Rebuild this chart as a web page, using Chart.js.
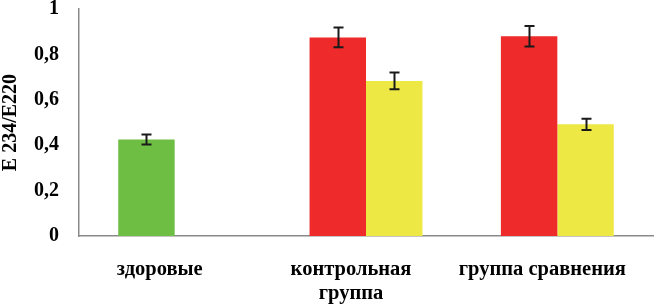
<!DOCTYPE html>
<html>
<head>
<meta charset="utf-8">
<script src="https://cdn.jsdelivr.net/npm/chart.js@4/dist/chart.umd.min.js"></script>
<style>
html,body{margin:0;padding:0;background:#fff;}
#wrap{width:655px;height:306px;position:relative;}
</style>
</head>
<body>
<div id="wrap"><canvas id="c"></canvas></div>
<script>
// ---- data ----
const categories = ['здоровые', ['контрольная', 'группа'], 'группа сравнения'];
const seriesA = [0.425, 0.875, 0.880];      // green / red bars
const seriesAErr = [0.022, 0.044, 0.045];
const seriesB = [null, 0.683, 0.492];        // yellow bars
const seriesBErr = [null, 0.037, 0.025];
const yTickLabels = ['0', '0,2', '0,4', '0,6', '0,8', '1'];
const yTitle = 'E 234/E220';

// ---- styles ----
const colorsA = ['#6FBE44', '#EE2A2A', '#EE2A2A'];
const colorB = '#EEE845';
const FONT = '"Liberation Serif", "Times New Roman", serif';

const errorBars = {
  id: 'errorBars',
  afterDatasetsDraw(chart) {
    const ctx = chart.ctx;
    const y = chart.scales.y;
    const errs = [seriesAErr, seriesBErr];
    ctx.save();
    ctx.strokeStyle = '#1a1a1a';
    ctx.lineWidth = 2;
    chart.data.datasets.forEach((ds, di) => {
      const meta = chart.getDatasetMeta(di);
      meta.data.forEach((bar, i) => {
        const v = ds.data[i];
        const e = errs[di][i];
        if (v == null || e == null) return;
        const x = Math.round(bar.x) + 0.5;
        const yt = y.getPixelForValue(v + e);
        const yb = y.getPixelForValue(v - e);
        ctx.beginPath();
        ctx.moveTo(x, yt); ctx.lineTo(x, yb);
        ctx.moveTo(x - 5, yt); ctx.lineTo(x + 5, yt);
        ctx.moveTo(x - 5, yb); ctx.lineTo(x + 5, yb);
        ctx.stroke();
      });
    });
    ctx.restore();
  }
};

new Chart(document.getElementById('c'), {
  type: 'bar',
  data: {
    labels: categories,
    datasets: [
      { label: 'A', data: seriesA, backgroundColor: colorsA, borderWidth: 0 },
      { label: 'B', data: seriesB, backgroundColor: colorB, borderWidth: 0 }
    ]
  },
  options: {
    responsive: true,
    maintainAspectRatio: false,
    animation: false,
    datasets: { bar: { barPercentage: 1.0, categoryPercentage: 0.59 } },
    layout: { padding: { left: 1, right: 2, top: 0, bottom: 0 } },
    plugins: { legend: { display: false }, tooltip: { enabled: false } },
    scales: {
      x: {
        grid: { display: false, drawTicks: true, tickLength: 22 },
        border: { display: true, color: '#8a8a8a', width: 1.5 },
        ticks: {
          color: '#000',
          font: { family: FONT, size: 20.5, weight: 'bold', lineHeight: 1.17 },
          padding: 0,
          labelOffset: -15,
          maxRotation: 0,
          autoSkip: false
        }
      },
      y: {
        min: 0, max: 1,
        grid: { display: false, drawTicks: true, tickLength: 20 },
        border: { display: true, color: '#8a8a8a', width: 1.5 },
        ticks: {
          stepSize: 0.2,
          color: '#000',
          font: { family: FONT, size: 20, weight: 'bold', lineHeight: 0.9 },
          padding: 0,
          callback: (v, i) => yTickLabels[i]
        },
        title: {
          display: true,
          text: yTitle,
          color: '#000',
          font: { family: FONT, size: 20, weight: 'bold', lineHeight: 1.0 },
          padding: { top: 0, bottom: 13 }
        }
      }
    }
  },
  plugins: [errorBars]
});
</script>
</body>
</html>
